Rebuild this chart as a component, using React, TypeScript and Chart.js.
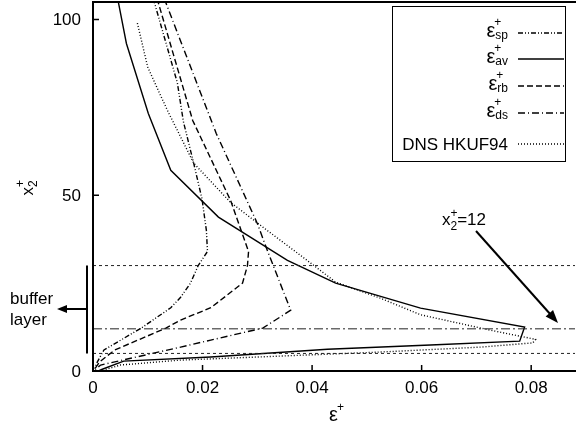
import React, { useEffect, useRef } from "react";
import { Chart, registerables } from "chart.js";

Chart.register(...registerables);

const FONT = '"Liberation Sans", Arial, Helvetica, sans-serif';

// axis ranges and ticks
const X_MIN = 0;
const X_MAX = 0.088;
const Y_MIN = 0;
const Y_MAX = 105;
const xTicks = [0, 0.02, 0.04, 0.06, 0.08];
const xTickLabels = ["0", "0.02", "0.04", "0.06", "0.08"];
const yTicks = [0, 50, 100];
const yTickLabels = ["0", "50", "100"];

// series: eps_sp (dash-dot-dot)
const spY = [106, 82, 71, 59, 49, 40, 34, 30, 25, 21, 18, 12.2, 6, 2.6, 0.3];
const spX = [0.011, 0.0154, 0.0165, 0.0184, 0.0199, 0.0207, 0.0209, 0.0192, 0.0178, 0.016, 0.0142, 0.0088, 0.002, 0.0008, 0.0002];

// eps_av (solid)
const avY = [110, 93.2, 73.3, 57.1, 43.8, 31.5, 25, 17.9, 12.5, 8.5, 7.4, 6.2, 4.0, 2.8, 0.5, 0];
const avX = [0.004, 0.0061, 0.0101, 0.0142, 0.0229, 0.0355, 0.0443, 0.0598, 0.0788, 0.0779, 0.0616, 0.0428, 0.0215, 0.0056, 0.0017, 0.001];

// eps_rb (dashed)
const rbY = [106, 71.3, 48.6, 34, 30, 25, 18, 14.5, 12.2, 6, 2.6, 0.3];
const rbX = [0.0117, 0.0182, 0.0251, 0.0284, 0.0282, 0.0273, 0.0215, 0.016, 0.0133, 0.004, 0.0012, 0.0002];

// eps_ds (dash-dot)
const dsY = [106, 67.6, 42, 34, 17.3, 12.2, 8.8, 6.8, 1.7, 0.3];
const dsX = [0.013, 0.0225, 0.03, 0.0319, 0.0361, 0.031, 0.0215, 0.016, 0.0014, 0.0003];

// DNS HKUF94 (dotted)
const dnsY = [99, 86.4, 74.1, 59.1, 48, 40, 33, 25.3, 20.7, 16, 11.6, 9, 8, 6.8, 5.4, 3.1, 1.7, 0.3];
const dnsX = [0.0081, 0.01, 0.0136, 0.0184, 0.0251, 0.0318, 0.0378, 0.0443, 0.0525, 0.0598, 0.0726, 0.0808, 0.0803, 0.0708, 0.0525, 0.016, 0.005, 0.002];

// reference horizontal lines (x2+ values)
const hLineY = [30, 12, 5];

const legendSubs = ["sp", "av", "rb", "ds"];
const dnsLabel = "DNS HKUF94";

const pts = (xs: number[], ys: number[]) => xs.map((x, i) => ({ x, y: ys[i] }));

const dashSp = [5, 2, 1, 2, 1, 2];
const dashRb = [6, 3];
const dashDs = [7, 3, 1, 3];
const dashDns = [1, 2];
const dashes = [dashSp, [], dashRb, dashDs, dashDns];
const hDashes = [[3, 3], [9, 3, 2, 3], [3, 3]];

function curve(xs: number[], ys: number[], dash: number[]) {
  return {
    data: pts(xs, ys),
    showLine: true,
    borderColor: "#000",
    backgroundColor: "#000",
    borderWidth: 1.4,
    borderDash: dash,
    pointRadius: 0,
    tension: 0,
    fill: false,
  };
}

function arrowHead(ctx: CanvasRenderingContext2D, x1: number, y1: number, x2: number, y2: number, len: number, half: number) {
  const a = Math.atan2(y2 - y1, x2 - x1);
  ctx.beginPath();
  ctx.moveTo(x2, y2);
  ctx.lineTo(x2 - len * Math.cos(a) + half * Math.sin(a), y2 - len * Math.sin(a) - half * Math.cos(a));
  ctx.lineTo(x2 - len * Math.cos(a) - half * Math.sin(a), y2 - len * Math.sin(a) + half * Math.cos(a));
  ctx.closePath();
  ctx.fill();
}

const deco = {
  id: "deco",
  afterDraw(chart: any) {
    const { ctx, chartArea: ca, scales } = chart;
    const xs = scales.x;
    const ys = scales.y;
    ctx.save();
    ctx.strokeStyle = "#000";
    ctx.fillStyle = "#000";
    ctx.setLineDash([]);

    // frame
    ctx.lineWidth = 2;
    ctx.beginPath();
    ctx.moveTo(chart.width, ca.top);
    ctx.lineTo(ca.left, ca.top);
    ctx.lineTo(ca.left, ca.bottom);
    ctx.lineTo(chart.width, ca.bottom);
    ctx.stroke();

    // ticks (inward)
    ctx.lineWidth = 1.5;
    ctx.beginPath();
    xTicks.forEach((v) => {
      const px = xs.getPixelForValue(v);
      ctx.moveTo(px, ca.bottom);
      ctx.lineTo(px, ca.bottom - 6);
    });
    yTicks.forEach((v) => {
      const py = ys.getPixelForValue(v);
      ctx.moveTo(ca.left, py);
      ctx.lineTo(ca.left + 6, py);
    });
    ctx.stroke();

    // tick labels
    ctx.font = `17px ${FONT}`;
    ctx.textAlign = "center";
    ctx.textBaseline = "alphabetic";
    xTicks.forEach((v, i) => {
      ctx.fillText(xTickLabels[i], xs.getPixelForValue(v), 393);
    });
    ctx.textAlign = "right";
    ctx.textBaseline = "middle";
    yTicks.forEach((v, i) => {
      ctx.fillText(yTickLabels[i], 81, ys.getPixelForValue(v) + 1);
    });

    // x-axis title: eps+
    ctx.textAlign = "left";
    ctx.textBaseline = "alphabetic";
    ctx.font = `20px ${FONT}`;
    const wE = ctx.measureText("ε").width;
    const xtX = (ca.left + ca.right) / 2 - 5;
    ctx.fillText("ε", xtX, 421);
    ctx.font = `12px ${FONT}`;
    ctx.fillText("+", xtX + wE - 1, 411);

    // y-axis title: x2+ rotated
    ctx.save();
    ctx.translate(33, 188);
    ctx.rotate(-Math.PI / 2);
    ctx.font = `17px ${FONT}`;
    const wx = ctx.measureText("x").width;
    ctx.font = `12px ${FONT}`;
    const w2 = ctx.measureText("2").width;
    const start = -(wx + w2) / 2;
    ctx.font = `17px ${FONT}`;
    ctx.fillText("x", start, 0);
    ctx.font = `12px ${FONT}`;
    ctx.fillText("2", start + wx, 4);
    ctx.fillText("+", start + wx, -9);
    ctx.restore();

    // legend box
    ctx.lineWidth = 1;
    ctx.strokeRect(392.5, 6.5, 173, 155);
    const rowMid = [32, 58, 85, 112];
    const sampleX1 = 518;
    const sampleX2 = 564;
    legendSubs.forEach((s, i) => {
      const c = rowMid[i];
      ctx.font = `12px ${FONT}`;
      const ws = Math.max(ctx.measureText(s).width, ctx.measureText("+").width);
      ctx.font = `20px ${FONT}`;
      const we = ctx.measureText("ε").width;
      const right = 508;
      const ex = right - ws - we;
      ctx.textAlign = "left";
      ctx.fillText("ε", ex, c + 5);
      ctx.font = `12px ${FONT}`;
      ctx.fillText("+", ex + we - 1, c - 6);
      ctx.fillText(s, ex + we, c + 7);
      ctx.setLineDash(dashes[i]);
      ctx.lineWidth = 1.3;
      ctx.beginPath();
      ctx.moveTo(sampleX1, c + 1);
      ctx.lineTo(sampleX2, c + 1);
      ctx.stroke();
      ctx.setLineDash([]);
    });
    ctx.font = `17px ${FONT}`;
    ctx.textAlign = "right";
    ctx.fillText(dnsLabel, 508, 150);
    ctx.setLineDash(dashDns);
    ctx.lineWidth = 1.3;
    ctx.beginPath();
    ctx.moveTo(sampleX1, 144);
    ctx.lineTo(sampleX2, 144);
    ctx.stroke();
    ctx.setLineDash([]);

    // buffer layer annotation
    const yTop = ys.getPixelForValue(hLineY[0]);
    const yBot = ys.getPixelForValue(hLineY[2]);
    ctx.lineWidth = 2;
    ctx.beginPath();
    ctx.moveTo(87, yTop);
    ctx.lineTo(87, yBot);
    ctx.moveTo(87, 309);
    ctx.lineTo(64, 309);
    ctx.stroke();
    arrowHead(ctx, 87, 309, 57, 309, 10, 4);
    ctx.font = `17px ${FONT}`;
    ctx.textAlign = "left";
    ctx.fillText("buffer", 10, 304);
    ctx.fillText("layer", 10, 325);

    // x2+=12 annotation
    ctx.font = `17px ${FONT}`;
    ctx.textAlign = "left";
    const ax = 442;
    ctx.fillText("x", ax, 225);
    const wxx = ctx.measureText("x").width;
    ctx.font = `12px ${FONT}`;
    ctx.fillText("+", ax + wxx, 217);
    ctx.fillText("2", ax + wxx, 230);
    const wsub = ctx.measureText("2").width;
    ctx.font = `17px ${FONT}`;
    ctx.fillText("=12", ax + wxx + wsub, 225);
    ctx.lineWidth = 2;
    ctx.beginPath();
    ctx.moveTo(476, 231);
    ctx.lineTo(551, 315);
    ctx.stroke();
    arrowHead(ctx, 476, 231, 558, 323, 13, 5);

    ctx.restore();
  },
};

export default function App() {
  const ref = useRef<HTMLCanvasElement>(null);
  useEffect(() => {
    const hSets = hLineY.map((v, i) => ({
      data: [
        { x: X_MIN, y: v },
        { x: X_MAX, y: v },
      ],
      showLine: true,
      borderColor: "#222",
      borderWidth: 1,
      borderDash: hDashes[i],
      pointRadius: 0,
      fill: false,
    }));
    const datasets: any[] = [
      ...hSets,
      curve(spX, spY, dashSp),
      curve(avX, avY, []),
      curve(rbX, rbY, dashRb),
      curve(dsX, dsY, dashDs),
      curve(dnsX, dnsY, dashDns),
    ];
    const chart = new Chart(ref.current as HTMLCanvasElement, {
      type: "scatter",
      data: { datasets },
      options: {
        animation: false,
        responsive: false,
        events: [],
        layout: { padding: { left: 93, top: 2, right: 1, bottom: 54 } },
        scales: {
          x: { type: "linear", min: X_MIN, max: X_MAX, display: false },
          y: { type: "linear", min: Y_MIN, max: Y_MAX, display: false },
        },
        plugins: { legend: { display: false }, tooltip: { enabled: false } },
      },
      plugins: [deco],
    } as any);
    return () => chart.destroy();
  }, []);
  return (
    <div style={{ position: "fixed", left: 0, top: 0, width: 576, height: 425, background: "#fff" }}>
      <canvas ref={ref} width={576} height={425} style={{ display: "block", width: 576, height: 425 }} />
    </div>
  );
}
